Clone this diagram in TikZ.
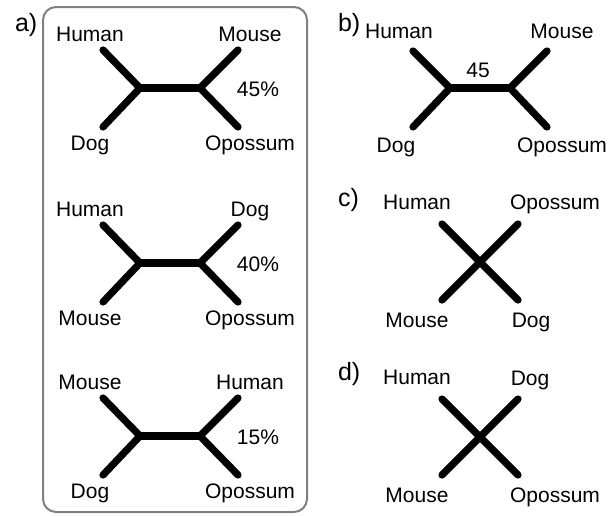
\documentclass[tikz,border=0pt]{standalone}
\usepackage{fontspec}
\setmainfont{Liberation Sans}

\tikzset{
  branch/.style={line width=3.6pt, line cap=round},
  taxon/.style={anchor=base, font=\fontsize{10.5}{12}\selectfont},
  panel/.style={anchor=base west, font=\fontsize{12.5}{14}\selectfont},
}

\begin{document}
\begin{tikzpicture}[x=0.5pt,y=-0.5pt]
  \useasboundingbox (0,0) rectangle (608,515);

  % a) the three splits with their weights
  \node[panel] (pa) at (8,31) {a)};
  \draw[gray, line width=1pt, rounded corners=6.5pt] (43,7) rectangle (307,512);

  \foreach \ul/\ur/\dl/\dr/\pct/\y [count=\i] in {
      Human/Mouse/Dog/Opossum/45/88,
      Human/Dog/Mouse/Opossum/40/263,
      Mouse/Human/Dog/Opossum/15/436}
  {
    \coordinate (a\i jl) at (140,\y);
    \coordinate (a\i jr) at (200,\y);
    \coordinate (a\i ul) at (103,\y-38);
    \coordinate (a\i ur) at (238,\y-38);
    \coordinate (a\i dl) at (103,\y+39);
    \coordinate (a\i dr) at (238,\y+39);

    \draw[branch] (a\i ul) -- (a\i jl) -- (a\i dl);
    \draw[branch] (a\i ur) -- (a\i jr) -- (a\i dr);
    \draw[branch] (a\i jl) -- (a\i jr);

    \node[taxon] (a\i tul) at (90,\y-47) {\ul};
    \node[taxon] (a\i tur) at (250,\y-47) {\ur};
    \node[taxon] (a\i tdl) at (90,\y+62) {\dl};
    \node[taxon] (a\i tdr) at (250,\y+62) {\dr};
    \node[taxon] (a\i w) at (258,\y+8) {\pct\%};
  }

  % b) one split, weight on the inner edge
  \node[panel] (pb) at (331,31) {b)};
  \coordinate (bjl) at (450,88);
  \coordinate (bjr) at (510,88);
  \coordinate (bul) at (413,51);
  \coordinate (bur) at (547,51);
  \coordinate (bdl) at (413,127);
  \coordinate (bdr) at (547,127);
  \draw[branch] (bul) -- (bjl) -- (bdl);
  \draw[branch] (bur) -- (bjr) -- (bdr);
  \draw[branch] (bjl) -- (bjr);
  \node[taxon] (btul) at (399,38) {Human};
  \node[taxon] (btur) at (562,38) {Mouse};
  \node[taxon] (btdl) at (396,152) {Dog};
  \node[taxon] (btdr) at (562,152) {Opossum};
  \node[taxon] (bw) at (478,77) {45};

  % c) and d) stars, no inner edge
  \foreach \p/\ul/\ur/\dl/\dr/\y/\ly in {
      c/Human/Opossum/Mouse/Dog/262/206,
      d/Human/Dog/Mouse/Opossum/437/380}
  {
    \node[panel] (p\p) at (331,\ly) {\p)};
    \coordinate (\p c) at (480,\y);
    \coordinate (\p ul) at (442,\y-38);
    \coordinate (\p ur) at (518,\y-38);
    \coordinate (\p dl) at (442,\y+38);
    \coordinate (\p dr) at (518,\y+38);
    \draw[branch] (\p ul) -- (\p c) -- (\p dr);
    \draw[branch] (\p ur) -- (\p c) -- (\p dl);
    \node[taxon] (\p tul) at (417,\y-53) {\ul};
    \node[taxon] (\p tdl) at (417,\y+65) {\dl};
  }
  \node[taxon] (ctur) at (555,209) {Opossum};
  \node[taxon] (ctdr) at (531,327) {Dog};
  \node[taxon] (dtur) at (530,385) {Dog};
  \node[taxon] (dtdr) at (555,502) {Opossum};
\end{tikzpicture}
\end{document}
